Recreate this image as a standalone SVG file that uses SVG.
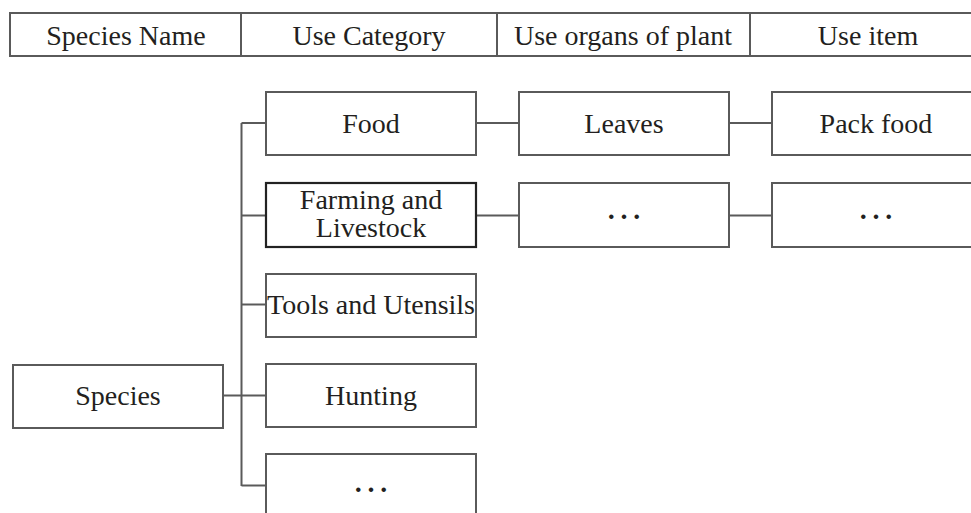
<svg xmlns="http://www.w3.org/2000/svg" width="971" height="513" viewBox="0 0 971 513">
<style>
.box{fill:#fff;stroke:#5a5a5a;stroke-width:2}
.bold{fill:#fff;stroke:#222;stroke-width:2.2}
.t{font-family:"Liberation Serif","Times New Roman",serif;font-size:28px;fill:#231f20;text-anchor:middle}
.e{font-family:"Liberation Serif","Times New Roman",serif;font-size:38px;fill:#231f20;text-anchor:middle}
.c{stroke:#5a5a5a;stroke-width:2;fill:none}
</style>
<rect width="971" height="513" fill="#fff"/>
<g id="header">
<rect class="box" x="10" y="13" width="975" height="43"/>
<line class="c" x1="241" y1="13" x2="241" y2="56"/>
<line class="c" x1="497" y1="13" x2="497" y2="56"/>
<line class="c" x1="750" y1="13" x2="750" y2="56"/>
<text class="t" x="126" y="45">Species Name</text>
<text class="t" x="369" y="45">Use Category</text>
<text class="t" x="623" y="45">Use organs of plant</text>
<text class="t" x="868" y="45">Use item</text>
</g>
<g id="connectors">
<line class="c" x1="241.5" y1="123" x2="241.5" y2="486"/>
<line class="c" x1="241.5" y1="123" x2="266" y2="123"/>
<line class="c" x1="241.5" y1="215.5" x2="266" y2="215.5"/>
<line class="c" x1="241.5" y1="304.5" x2="266" y2="304.5"/>
<line class="c" x1="223" y1="395.5" x2="266" y2="395.5"/>
<line class="c" x1="241.5" y1="485.5" x2="266" y2="485.5"/>
<line class="c" x1="476" y1="123" x2="519" y2="123"/>
<line class="c" x1="729" y1="123" x2="772" y2="123"/>
<line class="c" x1="476" y1="215.5" x2="519" y2="215.5"/>
<line class="c" x1="729" y1="215.5" x2="772" y2="215.5"/>
</g>
<g id="species">
<rect class="box" x="13" y="365" width="210" height="63"/>
<text class="t" x="118" y="405">Species</text>
</g>
<g id="food">
<rect class="box" x="266" y="92" width="210" height="63"/>
<text class="t" x="371" y="133">Food</text>
</g>
<g id="farming">
<rect class="bold" x="266" y="183" width="210" height="64"/>
<text class="t" x="371" y="209">Farming and</text>
<text class="t" x="371" y="237">Livestock</text>
</g>
<g id="tools">
<rect class="box" x="266" y="274" width="210" height="63"/>
<text class="t" x="371" y="314">Tools and Utensils</text>
</g>
<g id="hunting">
<rect class="box" x="266" y="364" width="210" height="63"/>
<text class="t" x="371" y="405">Hunting</text>
</g>
<g id="category-more">
<rect class="box" x="266" y="454" width="210" height="80"/>
<text class="e" x="371" y="492">…</text>
</g>
<g id="leaves">
<rect class="box" x="519" y="92" width="210" height="63"/>
<text class="t" x="624" y="133">Leaves</text>
</g>
<g id="pack-food">
<rect class="box" x="772" y="92" width="215" height="63"/>
<text class="t" x="876" y="133">Pack food</text>
</g>
<g id="organ-more">
<rect class="box" x="519" y="183" width="210" height="64"/>
<text class="e" x="624" y="219">…</text>
</g>
<g id="item-more">
<rect class="box" x="772" y="183" width="215" height="64"/>
<text class="e" x="876" y="219">…</text>
</g>
</svg>
